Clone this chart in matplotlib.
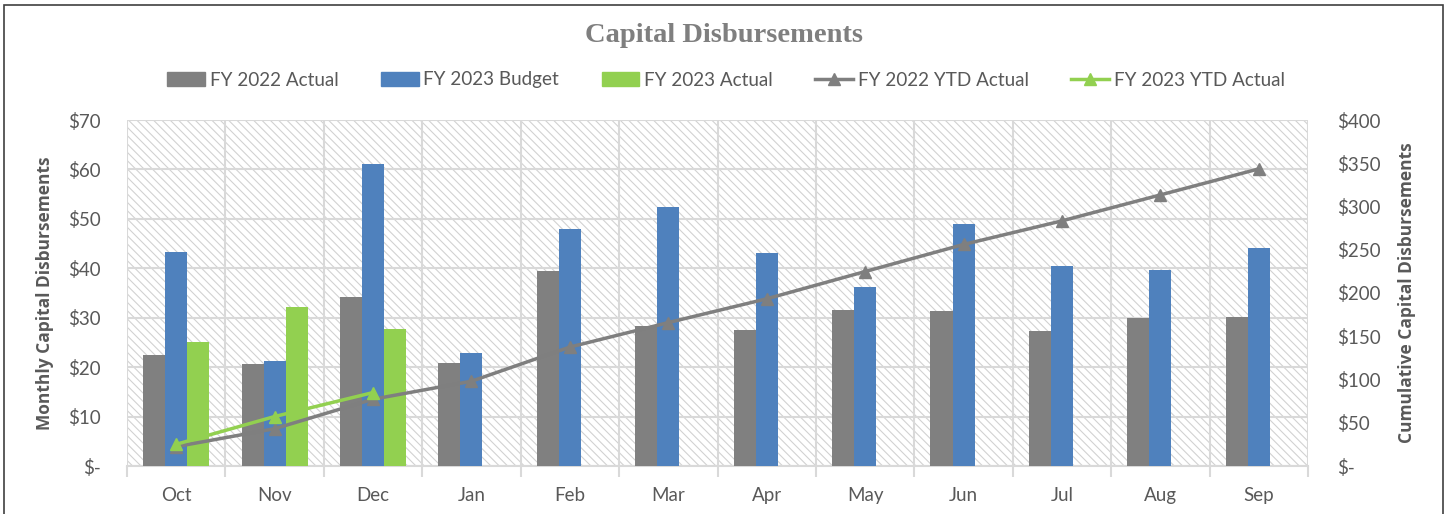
import matplotlib
matplotlib.use("Agg")
import matplotlib.pyplot as plt
import numpy as np
from matplotlib.patches import Rectangle
from matplotlib.lines import Line2D
from matplotlib.ticker import FuncFormatter, MultipleLocator

months = ["Oct", "Nov", "Dec", "Jan", "Feb", "Mar", "Apr", "May", "Jun", "Jul", "Aug", "Sep"]
fy22_actual = [22.4, 20.7, 34.1, 20.8, 39.5, 28.3, 27.5, 31.5, 31.3, 27.3, 30.0, 30.1]
fy23_budget = [43.3, 21.2, 61.0, 22.8, 47.9, 52.5, 43.0, 36.2, 49.0, 40.5, 39.6, 44.2]
fy23_actual = [25.1, 32.1, 27.7]
fy22_ytd = [22.4, 43.1, 77.2, 98.0, 137.5, 165.8, 193.3, 224.8, 256.1, 283.4, 313.4, 343.5]
fy23_ytd = [25.1, 57.2, 84.9]

GRAY = "#808080"
BLUE = "#4f81bd"
GREEN = "#92d050"
TXT = "#595959"
GRID = "#d9d9d9"
FONT = "Lato"
BOLDFONT = "Open Sans"

plt.rcParams["font.family"] = [FONT, "DejaVu Sans"]
plt.rcParams["hatch.linewidth"] = 0.8

fig = plt.figure(figsize=(14.52, 5.14), dpi=100)
fig.patches.append(Rectangle((4 / 1452, -0.01), 1439 / 1452, 1.01 - 5 / 514, transform=fig.transFigure,
                             fill=False, edgecolor="#404040", linewidth=1.2))

ax = fig.add_axes([127 / 1452, 48 / 514, 1181 / 1452, 346 / 514])
ax.set_xlim(-0.5, 11.5)
ax.set_ylim(0, 70)
ax.patch.set_visible(False)
ax.add_patch(Rectangle((0, 0), 1, 1, transform=ax.transAxes, facecolor="white",
                       edgecolor="#d2d2d2", hatch="\\\\\\\\", linewidth=0, zorder=0))

x = np.arange(len(months))
w = 0.224
ax.bar(x - w, fy22_actual, w, color=GRAY, zorder=3)
ax.bar(x, fy23_budget, w, color=BLUE, zorder=3)
ax.bar(x[:len(fy23_actual)] + w, fy23_actual, w, color=GREEN, zorder=3)

ax.yaxis.set_major_locator(MultipleLocator(10))
fmt = FuncFormatter(lambda v, p: "$-" if abs(v) < 1e-9 else f"${v:.0f}")
ax.yaxis.set_major_formatter(fmt)
ax.set_xticks(np.arange(-0.5, 12, 1), minor=False)
ax.set_xticklabels([])
ax.set_xticks(x, minor=True)
ax.set_xticklabels(months, minor=True)
ax.tick_params(axis="x", which="major", length=8, color=GRID, width=1.5)
ax.tick_params(axis="x", which="minor", length=0, labelsize=13.5, labelcolor=TXT, pad=15)
ax.tick_params(axis="y", length=0, labelsize=13.5, labelcolor=TXT, pad=19)
ax.grid(True, which="major", color=GRID, linewidth=1.5, zorder=1)
ax.set_axisbelow(True)
for s in ["top", "left", "right"]:
    ax.spines[s].set_visible(False)
ax.spines["bottom"].set_color(GRID)
ax.spines["bottom"].set_linewidth(1.5)
ax.set_ylabel("Monthly Capital Disbursements", fontsize=12.5, fontweight="bold", color=TXT,
              labelpad=10, family=BOLDFONT)

ax2 = ax.twinx()
ax2.set_ylim(0, 400)
ax2.yaxis.set_major_locator(MultipleLocator(50))
ax2.yaxis.set_major_formatter(fmt)
ax2.tick_params(axis="y", length=0, labelsize=13.5, labelcolor=TXT, pad=21)
for s in ["top", "left", "right", "bottom"]:
    ax2.spines[s].set_visible(False)
ax2.plot(x, fy22_ytd, color="#7f7f7f", linewidth=2.5, marker="^", markersize=9, zorder=5)
ax2.plot(x[:len(fy23_ytd)], fy23_ytd, color=GREEN, linewidth=2.5, marker="^", markersize=9, zorder=6)
ax2.set_ylabel("Cumulative Capital Disbursements", fontsize=12.5, fontweight="bold", color=TXT,
               labelpad=12, family=BOLDFONT)

fig.text(0.4985, 1 - 35 / 514, "Capital Disbursements", ha="center", va="center",
         fontsize=20.5, fontweight="bold", color="#7f7f7f", family="Liberation Serif")

handles = [
    Rectangle((0, 0), 1, 1, color=GRAY),
    Rectangle((0, 0), 1, 1, color=BLUE),
    Rectangle((0, 0), 1, 1, color=GREEN),
    Line2D([], [], color="#7f7f7f", linewidth=2.5, marker="^", markersize=8),
    Line2D([], [], color=GREEN, linewidth=2.5, marker="^", markersize=8),
]
labels = ["FY 2022 Actual", "FY 2023 Budget", "FY 2023 Actual", "FY 2022 YTD Actual", "FY 2023 YTD Actual"]
leg = fig.legend(handles, labels, loc="center", bbox_to_anchor=(0.5, 1 - 80 / 514), ncol=5,
                 frameon=False, fontsize=13.6, handlelength=2.0, handleheight=0.8,
                 handletextpad=0.25, columnspacing=2.25, labelcolor=TXT)

fig.savefig("out.png", dpi=100)
